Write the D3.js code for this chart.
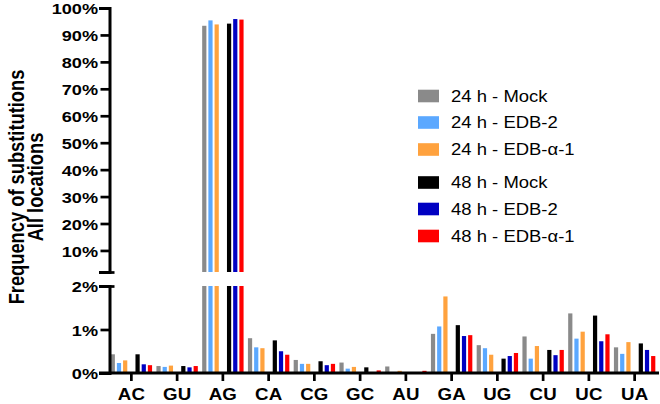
<!DOCTYPE html>
<html>
<head>
<meta charset="utf-8">
<script src="https://cdnjs.cloudflare.com/ajax/libs/d3/7.8.5/d3.min.js"></script>
<style>
  body { margin: 0; background: #fff; }
  text { font-family: "Liberation Sans", Arial, sans-serif; fill: #000; }
</style>
</head>
<body>
<script>
var width = 660;
var height = 404;

// data (percent)
var categories = ["AC", "GU", "AG", "CA", "CG", "GC", "AU", "GA", "UG", "CU", "UC", "UA"];
var seriesNames = ["24 h - Mock", "24 h - EDB-2", "24 h - EDB-\u03b1-1", "48 h - Mock", "48 h - EDB-2", "48 h - EDB-\u03b1-1"];
var seriesColors = ["#8a8a8a", "#5ba8ff", "#ffa23e", "#000000", "#0000c2", "#ff0000"];
var mock24  = [0.43, 0.16, 93.4, 0.80, 0.30, 0.24, 0.15, 0.90, 0.64, 0.84, 1.37, 0.59];
var edb2_24 = [0.23, 0.14, 95.4, 0.59, 0.21, 0.10, 0.01, 1.07, 0.57, 0.33, 0.79, 0.44];
var edba_24 = [0.29, 0.17, 93.9, 0.57, 0.21, 0.14, 0.05, 1.76, 0.42, 0.62, 0.95, 0.71];
var mock48  = [0.43, 0.16, 94.2, 0.75, 0.27, 0.13, 0.01, 1.10, 0.33, 0.53, 1.32, 0.68];
var edb2_48 = [0.20, 0.13, 95.9, 0.50, 0.18, 0.01, 0.01, 0.85, 0.39, 0.41, 0.73, 0.53];
var edba_48 = [0.18, 0.16, 95.7, 0.42, 0.21, 0.06, 0.05, 0.87, 0.46, 0.53, 0.89, 0.39];
var topTicks = [10, 20, 30, 40, 50, 60, 70, 80, 90, 100];
var lowTicks = [0, 1, 2];
var breakAt = 2;

var allSeries = [mock24, edb2_24, edba_24, mock48, edb2_48, edba_48];
var SX = 1.17; // text in the reference is drawn a bit wide

var svg = d3.select("body").append("svg").attr("width", width).attr("height", height);

var axisX = 109.5;
var x = d3.scaleBand().domain(categories).range([108.5, 657.5]);
var slot = d3.scaleBand().domain(["0", "1", "2", "gap", "3", "4", "5"])
    .range([-20.7, 20.7]).paddingInner(0.32).paddingOuter(0);
var slotKeys = ["0", "1", "2", "3", "4", "5"];

var yHigh = d3.scaleLinear().domain([breakAt, 100]).range([272, 8]);
var yLow = d3.scaleLinear().domain([0, breakAt]).range([373, 286]);

var bars = [];
allSeries.forEach(function (vals, s) {
    vals.forEach(function (v, i) {
        bars.push({cat: categories[i], s: s, v: v});
    });
});

// lower segment
svg.append("g").selectAll("rect.low")
    .data(bars)
    .enter()
    .append("rect")
    .attr("x", function (d) { return x(d.cat) + x.bandwidth() / 2 + slot(slotKeys[d.s]); })
    .attr("width", slot.bandwidth())
    .attr("y", function (d) { return yLow(Math.min(d.v, breakAt)); })
    .attr("height", function (d) { return yLow(0) - yLow(Math.min(d.v, breakAt)); })
    .attr("fill", function (d) { return seriesColors[d.s]; });

// upper segment
svg.append("g").selectAll("rect.high")
    .data(bars.filter(function (d) { return d.v > breakAt; }))
    .enter()
    .append("rect")
    .attr("x", function (d) { return x(d.cat) + x.bandwidth() / 2 + slot(slotKeys[d.s]); })
    .attr("width", slot.bandwidth())
    .attr("y", function (d) { return yHigh(d.v); })
    .attr("height", function (d) { return yHigh(breakAt) - yHigh(d.v); })
    .attr("fill", function (d) { return seriesColors[d.s]; });

function styleAxis(g) {
    g.select(".domain").attr("stroke-width", 3).attr("stroke-linecap", "square");
    g.selectAll(".tick line").attr("stroke-width", 2.7);
    g.selectAll(".tick text")
        .attr("font-size", 15.5)
        .attr("font-weight", "bold")
        .attr("fill", "#000");
}

// y axis, upper part
var gTop = svg.append("g").attr("transform", "translate(" + axisX + ",0)")
    .call(d3.axisLeft(yHigh).tickValues(topTicks.concat([breakAt])).tickSizeOuter(0).tickSize(9)
        .tickFormat(function (d) { return d === breakAt ? "" : d + "%"; }));
styleAxis(gTop);

// y axis, lower part
var gLow = svg.append("g").attr("transform", "translate(" + axisX + ",0)")
    .call(d3.axisLeft(yLow).tickValues(lowTicks).tickSizeOuter(0).tickSize(9)
        .tickFormat(function (d) { return d + "%"; }));
styleAxis(gLow);

// break caps
[gTop, gLow].forEach(function (g) {
    g.selectAll(".tick").filter(function (d) { return d === breakAt; })
        .select("line").attr("x1", -5).attr("x2", 5);
});
[gTop, gLow].forEach(function (g) {
    g.selectAll(".tick text")
        .attr("x", -11.5 / SX)
        .attr("dy", "0.36em")
        .attr("transform", "scale(" + SX + ",1)");
});

// x axis
var gX = svg.append("g").attr("transform", "translate(0,373)")
    .call(d3.axisBottom(x).tickSizeOuter(0).tickSize(8));
styleAxis(gX);
gX.select(".domain").attr("d", "M" + (axisX - 9) + ",0H657.5");
gX.selectAll(".tick text")
    .attr("font-size", 16)
    .attr("y", 27)
    .attr("dy", 0)
    .attr("transform", "scale(" + SX + ",1)");

// y title
var title = svg.append("text")
    .attr("transform", "translate(0,187) scale(" + SX + ",1) rotate(-90)")
    .attr("text-anchor", "middle")
    .attr("font-weight", "bold")
    .attr("font-size", 18.3);
title.append("tspan").attr("x", 0).attr("y", 20.2).text("Frequency of substitutions");
title.append("tspan").attr("x", 0).attr("y", 36.8).text("All locations");

// legend
var legendY = [96, 122.5, 149.5, 182.5, 209, 236];
var legend = svg.append("g").selectAll("g")
    .data(seriesNames)
    .enter()
    .append("g")
    .attr("transform", function (d, i) { return "translate(418," + legendY[i] + ")"; });
legend.append("rect")
    .attr("x", 0).attr("y", -6.3)
    .attr("width", 21).attr("height", 12.6)
    .attr("fill", function (d, i) { return seriesColors[i]; });
legend.append("text")
    .attr("transform", "translate(33,5.7) scale(" + SX + ",1)")
    .attr("font-size", 15.8)
    .text(function (d) { return d; });
</script>
</body>
</html>
